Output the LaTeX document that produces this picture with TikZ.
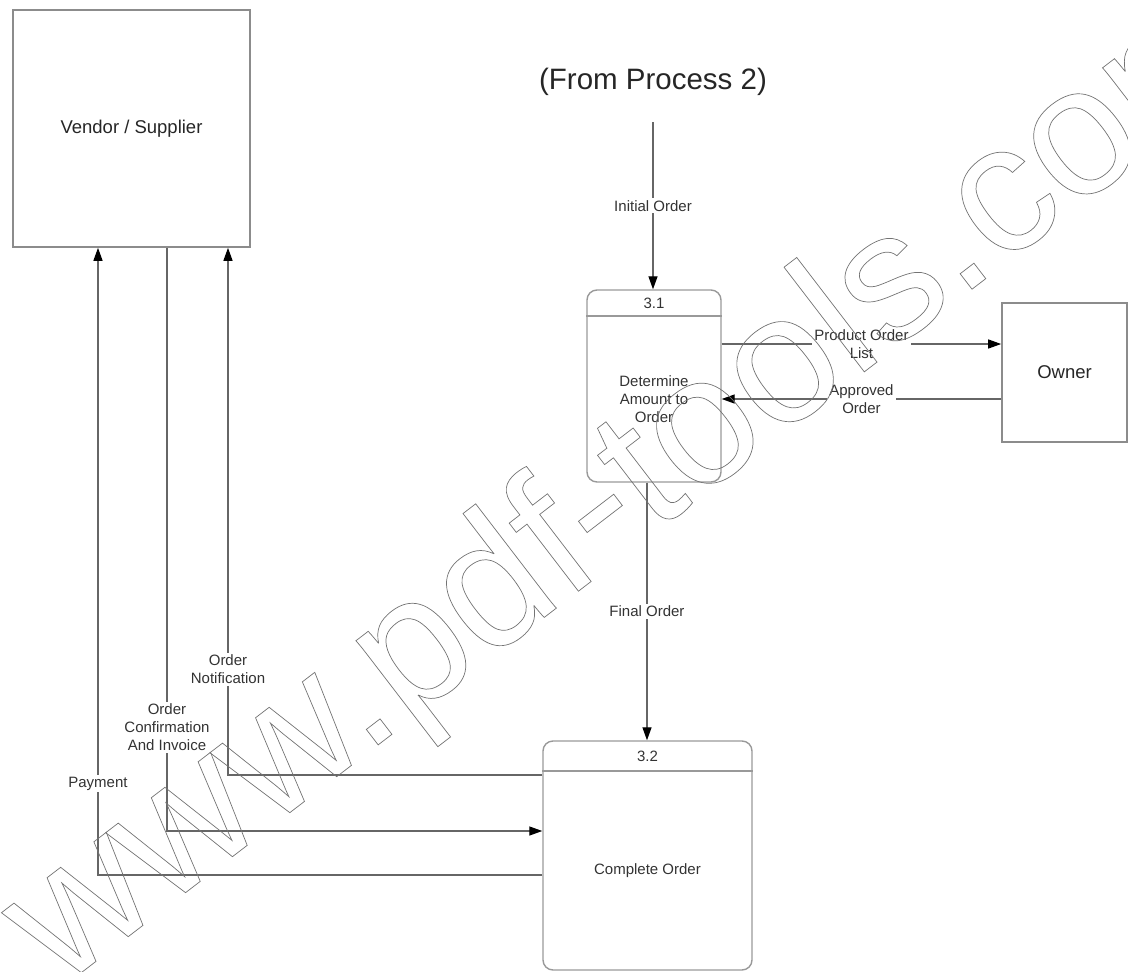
\documentclass[tikz,border=0pt]{standalone}
\usepackage{fontspec}
\setmainfont{Liberation Sans}
\usetikzlibrary{arrows.meta}
\begin{document}
\begin{tikzpicture}[x=1pt,y=-1pt,
  entity/.style={draw=black!45, line width=1.6pt, fill=white, font=\fontsize{18.5}{22}\selectfont, text=black!85},
  procbox/.style={draw=black!40, line width=1.4pt, rounded corners=10pt},
  procline/.style={draw=black!40, line width=1.4pt},
  flow/.style={draw=black!60, line width=1.3pt},
  arr/.style={flow, -{Triangle[length=13pt,width=9pt,fill=black,color=black]}},
  lbl/.style={fill=white, font=\fontsize{15}{18}\selectfont, text=black!80, align=center, inner sep=2pt},
  ptext/.style={font=\fontsize{15}{18}\selectfont, text=black!80, align=center},
]
\useasboundingbox (0,0) rectangle (1128,972);

% entities
\node[entity, minimum width=237pt, minimum height=237pt] (vendor) at (131.5,128.5) {Vendor / Supplier};
\node[entity, minimum width=125pt, minimum height=139pt] (owner) at (1064.5,372.5) {Owner};
\node[font=\fontsize{29.5}{34}\selectfont, text=black!85] (src) at (653,82) {(From Process 2)};

% process 3.1
\node[procbox, minimum width=134pt, minimum height=192pt] (p31) at (654,386) {};
\draw[procline] (p31.west |- 0,316) -- (p31.east |- 0,316);
\node[ptext] (p31n) at (654,303) {3.1};
\node[ptext] (p31t) at (654,399) {Determine\\Amount to\\Order};

% process 3.2
\node[procbox, minimum width=209pt, minimum height=229pt] (p32) at (647.5,855.5) {};
\draw[procline] (p32.west |- 0,771) -- (p32.east |- 0,771);
\node[ptext] (p32n) at (647.5,756) {3.2};
\node[ptext] (p32t) at (647.5,871) {Complete Order};

% flows
\coordinate (ioTop) at (653,122);
\draw[arr] (ioTop) -- (ioTop |- p31.north) node[lbl, midway] (l1) {Initial Order};
\draw[arr] (p31.east |- 0,344) -- (owner.west |- 0,344) node[lbl, midway] (l2) {Product Order\\List};
\draw[arr] (owner.west |- 0,399) -- (p31.east |- 0,399) node[lbl, midway] (l3) {Approved\\Order};
\draw[arr] (p31.south -| 647,0) -- (p32.north -| 647,0) node[lbl, midway] (l4) {Final Order};
\draw[arr] (p32.west |- 0,775) -| (vendor.south -| 228,0) node[lbl, pos=0.6] (l5) {Order\\Notification};
\draw[arr] (vendor.south -| 167,0) |- (p32.west |- 0,831) node[lbl, pos=0.411] (l6) {Order\\Confirmation\\And Invoice};
\draw[arr] (p32.west |- 0,875) -| (vendor.south -| 98,0) node[lbl, pos=0.573] (l7) {Payment};

% watermark
\node[rotate=37.5, anchor=base, text=black!55, font=\fontsize{182}{182}\selectfont, inner sep=0pt] (wm) at (666,524) {\special{pdf:literal direct 1 Tr 0.7 w}www.pdf-tools.com\special{pdf:literal direct 0 Tr}};
\end{tikzpicture}
\end{document}
